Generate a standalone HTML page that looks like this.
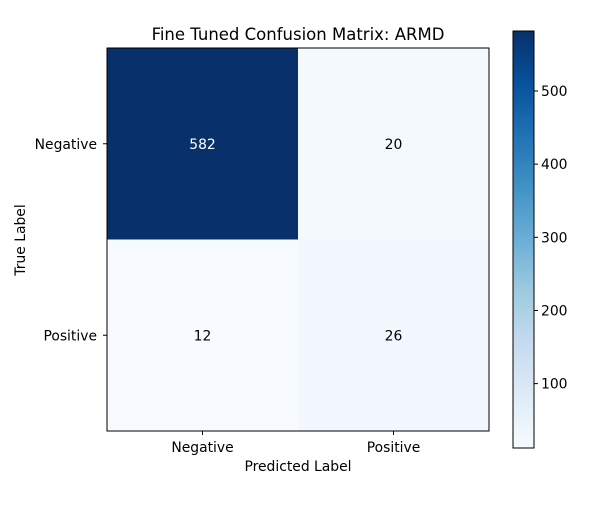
<!DOCTYPE html>
<html><head><meta charset="utf-8"><style>
body{margin:0;background:#fff;}
text{font-family:"DejaVu Sans","Liberation Sans",sans-serif;}
</style></head><body>
<svg id="chart" width="600" height="500" xmlns="http://www.w3.org/2000/svg">
<defs><linearGradient id="cbgrad" x1="0" y1="1" x2="0" y2="0"></linearGradient></defs>
<text x="298" y="40" text-anchor="middle" font-size="16.5">Fine Tuned Confusion Matrix: ARMD</text>
<g id="cells"></g>
<rect x="107" y="48" width="382" height="383" fill="none" stroke="#000" stroke-width="1"/>
<g id="ticks"></g>
<text x="298" y="471" text-anchor="middle" font-size="13.9">Predicted Label</text>
<text transform="translate(25,240) rotate(-90)" text-anchor="middle" font-size="13.9">True Label</text>
<rect x="513" y="31" width="21" height="417" fill="url(#cbgrad)" stroke="#000" stroke-width="1"/>
<g id="cbticks"></g>
</svg>
<script>
const classes = ["Negative","Positive"];
const matrix = [[582,20],[12,26]];
const cbTicks = [100,200,300,400,500];
const vmin = 12, vmax = 582;
const blues = ["#f7fbff","#deebf7","#c6dbef","#9ecae1","#6baed6","#4292c6","#2171b5","#08519c","#08306b"];
function hex(c){return [1,3,5].map(i=>parseInt(c.substr(i,2),16));}
function cmap(t){t=Math.max(0,Math.min(1,t));const p=t*(blues.length-1);const i=Math.min(Math.floor(p),blues.length-2);const f=p-i;const a=hex(blues[i]),b=hex(blues[i+1]);return "rgb("+a.map((v,k)=>Math.round(v+(b[k]-v)*f)).join(",")+")";}
const NS="http://www.w3.org/2000/svg";
const px0=107,py0=48,pw=382,ph=383;
const cw=pw/classes.length, ch=ph/classes.length;
function xs(j){return px0+j*cw;} function ys(i){return py0+i*ch;}
const cells=document.getElementById("cells");
matrix.forEach((row,i)=>row.forEach((v,j)=>{
 const r=document.createElementNS(NS,"rect");
 
 
 r.setAttribute("x",xs(j));r.setAttribute("y",ys(i));r.setAttribute("width",cw);r.setAttribute("height",ch);
 const t=(v-vmin)/(vmax-vmin);
 r.setAttribute("fill",cmap(t));cells.appendChild(r);
 const tx=document.createElementNS(NS,"text");
 
 
 tx.setAttribute("x",xs(j)+cw/2);tx.setAttribute("y",ys(i)+ch/2+5);tx.setAttribute("text-anchor","middle");tx.setAttribute("font-size","13.9");
 tx.setAttribute("fill",t>0.5?"#fff":"#000");tx.textContent=v;cells.appendChild(tx);
}));
const ticks=document.getElementById("ticks");
classes.forEach((c,k)=>{
 const cx=xs(k)+cw/2, cy=ys(k)+ch/2;
 let l=document.createElementNS(NS,"line");
 
 
 l.setAttribute("x1",cx);l.setAttribute("x2",cx);l.setAttribute("y1",431);l.setAttribute("y2",435);l.setAttribute("stroke","#000");ticks.appendChild(l);
 let t=document.createElementNS(NS,"text");
 
 
 t.setAttribute("x",cx);t.setAttribute("y",452);t.setAttribute("text-anchor","middle");t.setAttribute("font-size","13.9");t.textContent=c;ticks.appendChild(t);
 l=document.createElementNS(NS,"line");
 
 
 l.setAttribute("x1",103);l.setAttribute("x2",107);l.setAttribute("y1",cy);l.setAttribute("y2",cy);l.setAttribute("stroke","#000");ticks.appendChild(l);
 t=document.createElementNS(NS,"text");
 
 
 t.setAttribute("x",97);t.setAttribute("y",cy+5);t.setAttribute("text-anchor","end");t.setAttribute("font-size","13.9");t.textContent=c;ticks.appendChild(t);
});
const g=document.getElementById("cbgrad");
blues.forEach((c,i)=>{const s=document.createElementNS(NS,"stop");s.setAttribute("offset",i/(blues.length-1));s.setAttribute("stop-color",c);g.appendChild(s);});
const cbt=document.getElementById("cbticks");
function cby(v){return 448-(v-vmin)/(vmax-vmin)*417;}
cbTicks.forEach(v=>{
 const y=cby(v);
 const l=document.createElementNS(NS,"line");
 
 
 l.setAttribute("x1",534);l.setAttribute("x2",538);l.setAttribute("y1",y);l.setAttribute("y2",y);l.setAttribute("stroke","#000");cbt.appendChild(l);
 const t=document.createElementNS(NS,"text");
 
 
 t.setAttribute("x",541);t.setAttribute("y",y+5);t.setAttribute("font-size","13.9");t.textContent=v;cbt.appendChild(t);
});
</script>
</body></html>
